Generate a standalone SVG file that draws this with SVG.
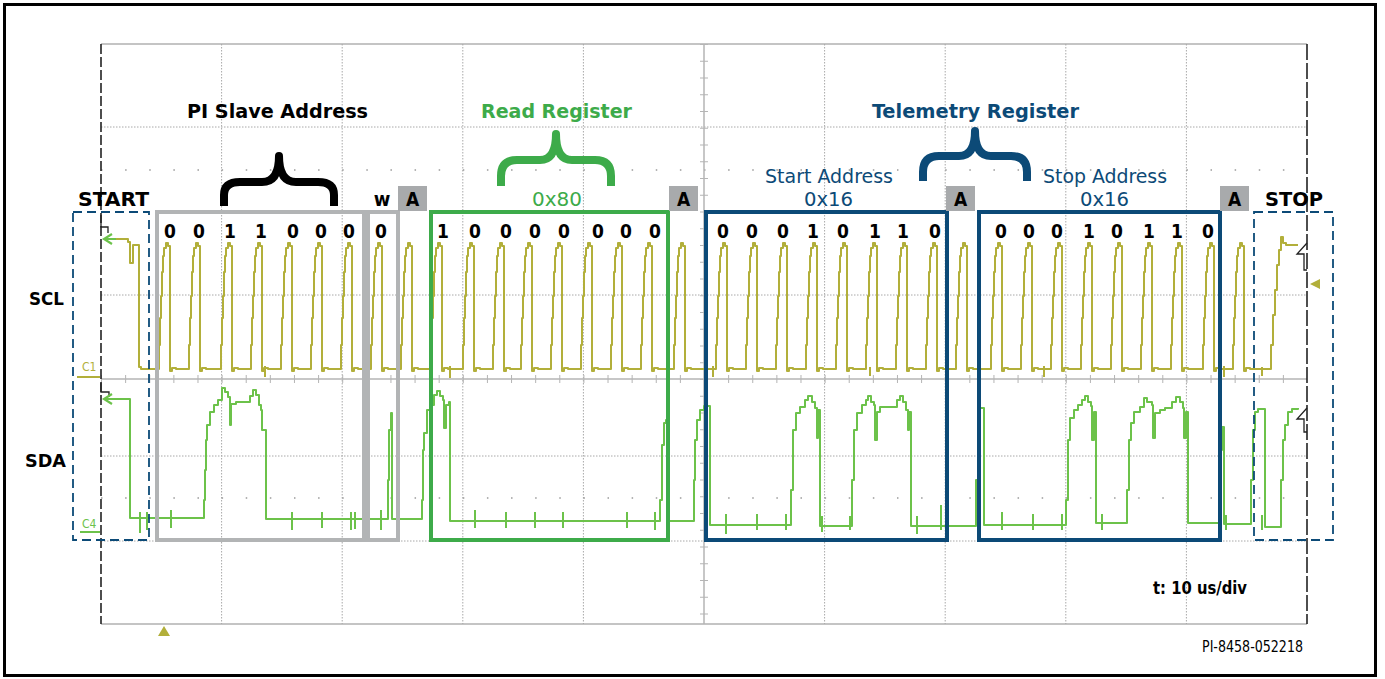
<svg xmlns="http://www.w3.org/2000/svg" width="1385" height="679" viewBox="0 0 1385 679">
<style>
.b{font-family:'DejaVu Sans Condensed','DejaVu Sans',sans-serif;font-weight:bold;}
.n{font-family:'DejaVu Sans Condensed','DejaVu Sans',sans-serif;font-weight:normal;}
.dot{stroke:#a8a8a8;stroke-width:1;stroke-dasharray:1.5 1.5;fill:none;}
.scl{fill:none;stroke:#b2af3a;stroke-width:2;stroke-linejoin:round;}
.sda{fill:none;stroke:#6cc24a;stroke-width:2;stroke-linejoin:round;}
.gbox{fill:none;stroke:#b2b4b5;stroke-width:4;}
.grn{fill:none;stroke:#3dab4a;stroke-width:4;}
.blu{fill:none;stroke:#0c4a77;stroke-width:4;}
.dsh{fill:none;stroke:#0c4a77;stroke-width:1.8;stroke-dasharray:9 5;}
.abox{fill:#a8aaac;}
.brace{fill:none;stroke-width:8;stroke-linejoin:round;}
</style>
<rect x="0" y="0" width="1385" height="679" fill="#ffffff"/>
<rect x="4.5" y="4.5" width="1371" height="671" fill="none" stroke="#000" stroke-width="3"/>

<g id="grid">
  <line x1="101" y1="44" x2="1307" y2="44" stroke="#b0b0b0" stroke-width="1.5"/>
  <line x1="101" y1="624" x2="1307" y2="624" stroke="#b0b0b0" stroke-width="1.5"/>
  <path class="dot" d="M221.6,44V624M342.2,44V624M462.8,44V624M583.4,44V624M824.6,44V624M945.2,44V624M1065.8,44V624M1186.4,44V624"/>
  <path class="dot" d="M101,127H1307M101,295H1307M101,456H1307M101,541H1307"/>
  <path d="M101,170H1307M101,498H1307" stroke="#9a9a9a" stroke-width="1.5" stroke-dasharray="1.5 22.62" fill="none"/>
  <line x1="704" y1="44" x2="704" y2="624" stroke="#b5b5b5" stroke-width="1.5"/>
  <line x1="101" y1="379" x2="1307" y2="379" stroke="#b5b5b5" stroke-width="1.5"/>
  <line x1="704" y1="44" x2="704" y2="624" stroke="#b5b5b5" stroke-width="8" stroke-dasharray="1 15.75"/>
  <line x1="101" y1="379" x2="1307" y2="379" stroke="#b5b5b5" stroke-width="8" stroke-dasharray="1 23.12"/>
  <line x1="101" y1="44" x2="101" y2="624" stroke="#222" stroke-width="1.6" stroke-dasharray="10 3"/>
  <line x1="1307" y1="44" x2="1307" y2="624" stroke="#222" stroke-width="1.6" stroke-dasharray="16 3"/>
</g>

<g id="scl-trace">
  <path class="scl" d="M104,239 H128 V242 H130 V263 H133 V245 H139 V367 H141 V369
  H159 v-24h1v-27h1v-22h1v-24h1v-16h1v-8h2v-5h2v3h2V371h2V368h4v1
  H189 v-24h1v-27h1v-22h1v-24h1v-16h1v-8h2v-5h2v3h2V371h2V368h4v1
  H221 v-24h1v-27h1v-22h1v-24h1v-16h1v-8h2v-5h2v3h2V371h2V368h4v1
  H251 v-24h1v-27h1v-22h1v-24h1v-16h1v-8h2v-5h2v3h2V371h2V368h4v1
  H281 v-24h1v-27h1v-22h1v-24h1v-16h1v-8h2v-5h2v3h2V371h2V368h4v1
  H311 v-24h1v-27h1v-22h1v-24h1v-16h1v-8h2v-5h2v3h2V371h2V368h4v1
  H341 v-24h1v-27h1v-22h1v-24h1v-16h1v-8h2v-5h2v3h2V371h2V368h4v1
  H371 v-24h1v-27h1v-22h1v-24h1v-16h1v-8h2v-5h2v3h2V371h2V368h4v1
  H401 v-24h1v-27h1v-22h1v-24h1v-16h1v-8h2v-5h2v3h2V371h2V368h4v1
  H431 v-24h1v-27h1v-22h1v-24h1v-16h1v-8h2v-5h2v3h2V371h2V368h4v1
  H463 v-24h1v-27h1v-22h1v-24h1v-16h1v-8h2v-5h2v3h2V371h2V368h4v1
  H493 v-24h1v-27h1v-22h1v-24h1v-16h1v-8h2v-5h2v3h2V371h2V368h4v1
  H521 v-24h1v-27h1v-22h1v-24h1v-16h1v-8h2v-5h2v3h2V371h2V368h4v1
  H551 v-24h1v-27h1v-22h1v-24h1v-16h1v-8h2v-5h2v3h2V371h2V368h4v1
  H581 v-24h1v-27h1v-22h1v-24h1v-16h1v-8h2v-5h2v3h2V371h2V368h4v1
  H611 v-24h1v-27h1v-22h1v-24h1v-16h1v-8h2v-5h2v3h2V371h2V368h4v1
  H641 v-24h1v-27h1v-22h1v-24h1v-16h1v-8h2v-5h2v3h2V371h2V368h4v1
  H674 v-24h1v-27h1v-22h1v-24h1v-16h1v-8h2v-5h2v3h2V371h2V368h4v1
  H716 v-24h1v-27h1v-22h1v-24h1v-16h1v-8h2v-5h2v3h2V371h2V368h4v1
  H746 v-24h1v-27h1v-22h1v-24h1v-16h1v-8h2v-5h2v3h2V371h2V368h4v1
  H776 v-24h1v-27h1v-22h1v-24h1v-16h1v-8h2v-5h2v3h2V371h2V368h4v1
  H806 v-24h1v-27h1v-22h1v-24h1v-16h1v-8h2v-5h2v3h2V371h2V368h4v1
  H836 v-24h1v-27h1v-22h1v-24h1v-16h1v-8h2v-5h2v3h2V371h2V368h4v1
  H866 v-24h1v-27h1v-22h1v-24h1v-16h1v-8h2v-5h2v3h2V371h2V368h4v1
  H896 v-24h1v-27h1v-22h1v-24h1v-16h1v-8h2v-5h2v3h2V371h2V368h4v1
  H926 v-24h1v-27h1v-22h1v-24h1v-16h1v-8h2v-5h2v3h2V371h2V368h4v1
  H956 v-24h1v-27h1v-22h1v-24h1v-16h1v-8h2v-5h2v3h2V371h2V368h4v1
  H991 v-24h1v-27h1v-22h1v-24h1v-16h1v-8h2v-5h2v3h2V371h2V368h4v1
  H1021 v-24h1v-27h1v-22h1v-24h1v-16h1v-8h2v-5h2v3h2V371h2V368h4v1
  H1051 v-24h1v-27h1v-22h1v-24h1v-16h1v-8h2v-5h2v3h2V371h2V368h4v1
  H1081 v-24h1v-27h1v-22h1v-24h1v-16h1v-8h2v-5h2v3h2V371h2V368h4v1
  H1111 v-24h1v-27h1v-22h1v-24h1v-16h1v-8h2v-5h2v3h2V371h2V368h4v1
  H1141 v-24h1v-27h1v-22h1v-24h1v-16h1v-8h2v-5h2v3h2V371h2V368h4v1
  H1171 v-24h1v-27h1v-22h1v-24h1v-16h1v-8h2v-5h2v3h2V371h2V368h4v1
  H1203 v-24h1v-27h1v-22h1v-24h1v-16h1v-8h2v-5h2v3h2V371h2V368h4v1
  H1233 v-24h1v-27h1v-22h1v-24h1v-16h1v-8h2v-5h2v3h2V371h2V368h4v1
  H1271 v-24h2v-30h2v-25h2v-25h2v-15h2V237h2V243h3V245H1298"/>
  <path class="scl" stroke-width="1.4" d="M265,366V377M450,366V378M713,366V377M870,367V376M1044,366V377M1224,366V377M1262,367V376"/>
  <path d="M101,215V227H108V233" fill="none" stroke="#222" stroke-width="1.3"/>
  <path d="M112,234L104,239L112,244M104,239H116" fill="none" stroke="#6cc24a" stroke-width="2.2"/>
  <path d="M1307,243L1297,254H1304V270H1307" fill="none" stroke="#222" stroke-width="1.3"/>
  <polygon points="1310,284 1320,279 1320,289" fill="#b2af3a"/>
  <text x="82" y="371" class="n" font-size="12" fill="#b2af3a">C1</text>
  <line x1="77" y1="377" x2="100" y2="377" stroke="#b2af3a" stroke-width="2"/>
</g>

<g id="sda-trace">
  <path class="sda" d="M104,399 H130 V518 H204 V500 H205 V470 H206 V440 H207 V425 H210 V412 H214 V405 H218 V400 H222 V388 H225 V392 H228 V397 H230 V425 H231 V404 H236 V402 H250 V396 H253 V390 H256 V395 H259 V405 H261 V410 H262 V430 H265 V430 H266 V519 H388 V480 H389 V430 H391 V413 H392 V519 H422 V500 H423 V450 H424 V433 H427 V410 H431 V405 H434 V395 H437 V391 H440 V396 H443 V400 H444 V428 H446 V405 H449 V402 H450 V521 H660 V500 H662 V445 H664 V423 H666 V420 H668 V521 H694 V480 H695 V440 H697 V420 H700 V410 H704 V406 H710 V525 H791 V490 H793 V430 H796 V413 H800 V407 H805 V400 H808 V396 H812 V402 H815 V408 H817 V438 H818 V410 H820 V526 H852 V480 H854 V430 H857 V413 H862 V405 H866 V400 H868 V396 H871 V402 H874 V405 H875 V440 H877 V412 H880 V407 H897 V400 H900 V396 H903 V402 H906 V410 H908 V430 H909 V412 H911 V526 H976 V480 H978 V430 H980 V408 H984 V525 H1066 V500 H1068 V440 H1070 V418 H1074 V410 H1078 V405 H1082 V400 H1085 V396 H1088 V402 H1091 V406 H1092 V440 H1094 V412 H1096 V523 H1127 V490 H1129 V440 H1131 V423 H1134 V412 H1140 V407 H1144 V398 H1147 V402 H1152 V405 H1153 V438 H1155 V413 H1160 V410 H1165 V408 H1172 V402 H1176 V397 H1180 V402 H1183 V408 H1184 V438 H1186 V412 H1188 V523 H1220 V450 H1222 V427 H1224 V524 H1251 V480 H1253 V430 H1255 V412 H1258 V409 H1265 V527 H1281 V480 H1283 V440 H1285 V425 H1288 V412 H1292 V409 H1298 V408"/>
  <path class="sda" stroke-width="1.4" d="M140,512V533M147,512V530M171,510V528M292,512V530M322,512V528M351,512V530M355,512V529M381,510V530M398,512V528M475,510V528M506,512V528M535,512V528M563,512V528M627,512V528M655,512V530M726,514V534M757,514V530M786,514V530M822,516V532M850,516V530M917,516V534M941,505V530M1002,512V530M1033,514V530M1062,514V530M1102,514V530M1226,515V530M1262,515V530"/>
  <path d="M101,383V392H109V397" fill="none" stroke="#222" stroke-width="1.3"/>
  <path d="M112,394L104,399L112,404M104,399H116" fill="none" stroke="#6cc24a" stroke-width="2.2"/>
  <path d="M1307,408L1297,419H1304V432H1307" fill="none" stroke="#222" stroke-width="1.3"/>
  <text x="82" y="528" class="n" font-size="12" fill="#6cc24a">C4</text>
  <line x1="80" y1="532" x2="100" y2="532" stroke="#6cc24a" stroke-width="2"/>
</g>

<g id="start">
  <rect class="dsh" x="73" y="212" width="76" height="328"/>
  <text x="113.5" y="206" class="b" font-size="20" text-anchor="middle" textLength="71" lengthAdjust="spacingAndGlyphs">START</text>
</g>

<g id="slave-address">
  <text x="277.5" y="118" class="b" font-size="20" text-anchor="middle" textLength="181" lengthAdjust="spacingAndGlyphs">PI Slave Address</text>
  <path class="brace" stroke="#000" d="M224,206V195Q224,182 240,182H262Q279,182 279,156Q279,182 296,182H318Q334,182 334,195V206"/>
  <rect class="gbox" x="157" y="212" width="207" height="328"/>
  <g class="b" font-size="19" text-anchor="middle">
    <text x="170" y="238">0</text><text x="199" y="238">0</text><text x="230" y="238">1</text><text x="261" y="238">1</text><text x="293" y="238">0</text><text x="321" y="238">0</text><text x="349" y="238">0</text>
  </g>
</g>

<g id="write-bit">
  <rect class="gbox" x="368" y="212" width="30" height="328"/>
  <text x="382" y="206" class="b" font-size="20" text-anchor="middle">w</text>
  <text x="381" y="238" class="b" font-size="19" text-anchor="middle">0</text>
</g>

<g id="ack1"><rect class="abox" x="398" y="186" width="29" height="25"/><text x="412.5" y="206" class="b" font-size="19" text-anchor="middle">A</text></g>

<g id="read-register">
  <text x="556.5" y="118" class="b" font-size="20" fill="#3dab4a" text-anchor="middle" textLength="151" lengthAdjust="spacingAndGlyphs">Read Register</text>
  <path class="brace" stroke="#3dab4a" d="M501,186V176Q501,160 517,160H540Q556,160 556,134Q556,160 572,160H595Q611,160 611,176V186"/>
  <text x="557" y="206" class="n" font-size="19" fill="#3dab4a" text-anchor="middle" textLength="50" lengthAdjust="spacingAndGlyphs">0x80</text>
  <rect class="grn" x="431" y="212" width="237" height="328"/>
  <g class="b" font-size="19" text-anchor="middle">
    <text x="443" y="238">1</text><text x="475" y="238">0</text><text x="506" y="238">0</text><text x="535" y="238">0</text><text x="564" y="238">0</text><text x="598" y="238">0</text><text x="626" y="238">0</text><text x="655" y="238">0</text>
  </g>
</g>

<g id="ack2"><rect class="abox" x="669" y="186" width="29" height="25"/><text x="683.5" y="206" class="b" font-size="19" text-anchor="middle">A</text></g>

<g id="telemetry-register">
  <text x="975.5" y="118" class="b" font-size="20" fill="#0c4a77" text-anchor="middle" textLength="207" lengthAdjust="spacingAndGlyphs">Telemetry Register</text>
  <path class="brace" stroke="#0c4a77" d="M923,181V172Q923,156 939,156H959Q975,156 975,131Q975,156 991,156H1011Q1027,156 1027,172V181"/>
</g>

<g id="start-address">
  <text x="829" y="183" class="n" font-size="19" fill="#0c4a77" text-anchor="middle" textLength="128" lengthAdjust="spacingAndGlyphs">Start Address</text>
  <text x="828.5" y="206" class="n" font-size="19" fill="#0c4a77" text-anchor="middle" textLength="49" lengthAdjust="spacingAndGlyphs">0x16</text>
  <rect class="blu" x="706" y="212" width="241" height="328"/>
  <g class="b" font-size="19" text-anchor="middle">
    <text x="723" y="238">0</text><text x="752" y="238">0</text><text x="783" y="238">0</text><text x="813" y="238">1</text><text x="843" y="238">0</text><text x="875" y="238">1</text><text x="903" y="238">1</text><text x="935" y="238">0</text>
  </g>
</g>

<g id="ack3"><rect class="abox" x="946" y="186" width="29" height="25"/><text x="960.5" y="206" class="b" font-size="19" text-anchor="middle">A</text></g>

<g id="stop-address">
  <text x="1105" y="183" class="n" font-size="19" fill="#0c4a77" text-anchor="middle" textLength="124" lengthAdjust="spacingAndGlyphs">Stop Address</text>
  <text x="1104.5" y="206" class="n" font-size="19" fill="#0c4a77" text-anchor="middle" textLength="49" lengthAdjust="spacingAndGlyphs">0x16</text>
  <rect class="blu" x="979" y="212" width="241" height="328"/>
  <g class="b" font-size="19" text-anchor="middle">
    <text x="1001" y="238">0</text><text x="1029" y="238">0</text><text x="1057" y="238">0</text><text x="1089" y="238">1</text><text x="1117" y="238">0</text><text x="1149" y="238">1</text><text x="1177" y="238">1</text><text x="1208" y="238">0</text>
  </g>
</g>

<g id="ack4"><rect class="abox" x="1220" y="186" width="29" height="25"/><text x="1234.5" y="206" class="b" font-size="19" text-anchor="middle">A</text></g>

<g id="stop">
  <rect class="dsh" x="1254" y="212" width="79" height="328"/>
  <text x="1294" y="206" class="b" font-size="20" text-anchor="middle" textLength="58" lengthAdjust="spacingAndGlyphs">STOP</text>
</g>

<g id="labels">
  <text x="46.5" y="305" class="b" font-size="18" text-anchor="middle" textLength="35" lengthAdjust="spacingAndGlyphs">SCL</text>
  <text x="45.5" y="467" class="b" font-size="18" text-anchor="middle" textLength="41" lengthAdjust="spacingAndGlyphs">SDA</text>
  <polygon points="164,626 158,636 170,636" fill="#b2af3a"/>
  <text x="1200" y="594" class="b" font-size="17" text-anchor="middle" textLength="94" lengthAdjust="spacingAndGlyphs">t: 10 us/div</text>
  <text x="1252.5" y="652" class="n" font-size="15" text-anchor="middle" textLength="101" lengthAdjust="spacingAndGlyphs">PI-8458-052218</text>
</g>
</svg>
